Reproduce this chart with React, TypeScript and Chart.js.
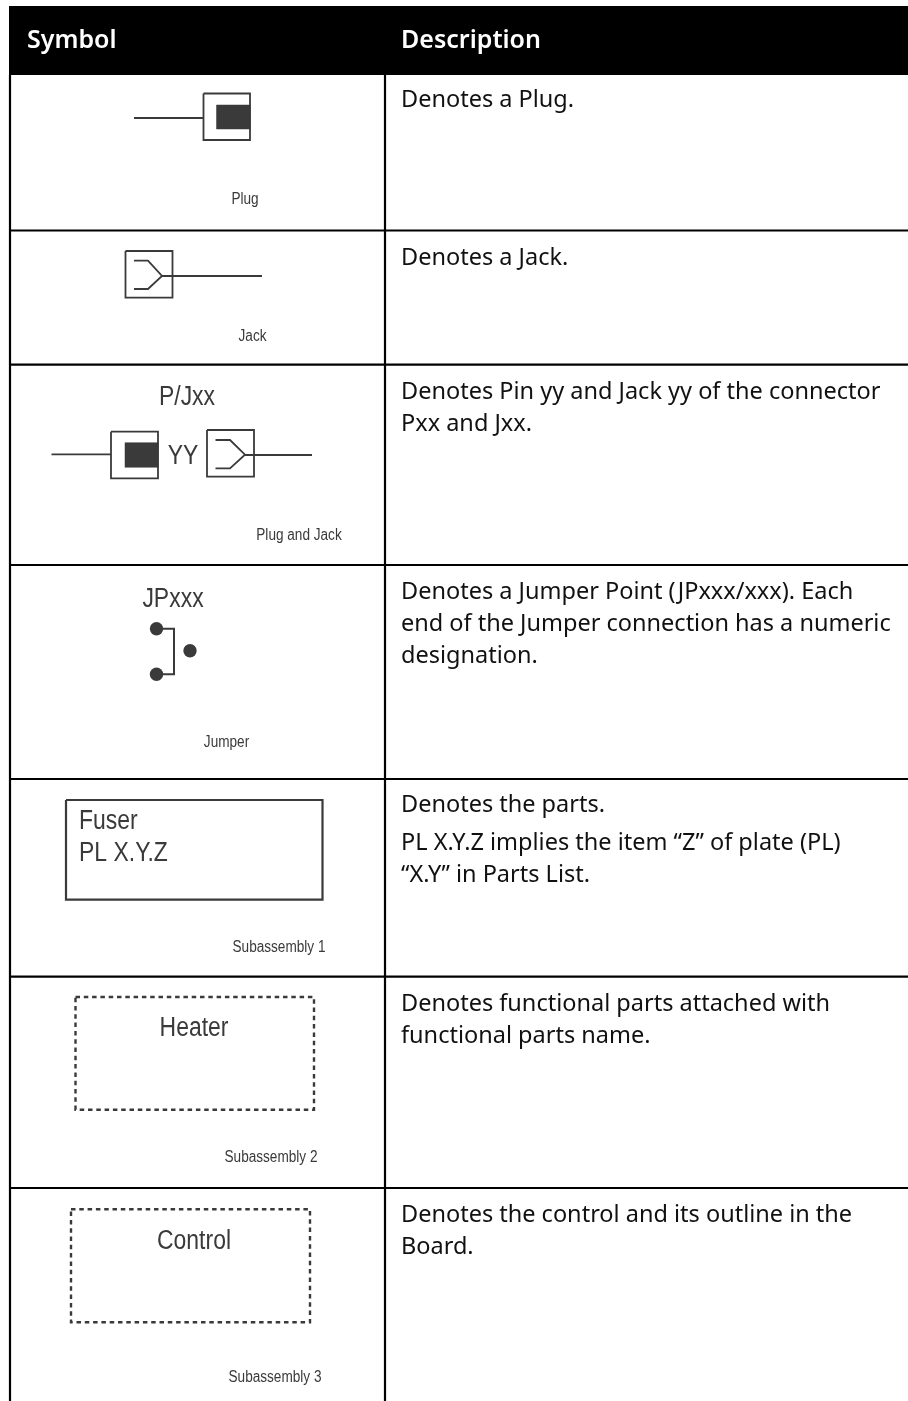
import React, { useEffect, useRef } from "react";
import { Chart, registerables } from "chart.js";

Chart.register(...registerables);

type P = { x: number; y: number };
const pts = (...v: number[]): P[] => {
  const out: P[] = [];
  for (let i = 0; i < v.length; i += 2) out.push({ x: v[i], y: v[i + 1] });
  return out;
};

// table frame
const headerBand = pts(9, 6, 908, 6, 908, 75, 9, 75, 9, 6);
const leftRule = pts(10, 75, 10, 1401);
const midRule = pts(385, 75, 385, 1401);
const rowRules = [230.5, 364.7, 565, 779, 976.7, 1188];

// symbols
const plugWire = pts(134, 118, 203.5, 118);
const plugBox = pts(203.5, 93.5, 250, 93.5, 250, 140, 203.5, 140, 203.5, 93.5);
const plugCore = pts(216.5, 105, 250, 105, 250, 129, 216.5, 129, 216.5, 105);

const jackBox = pts(125.5, 251, 172.5, 251, 172.5, 297.7, 125.5, 297.7, 125.5, 251);
const jackWire = pts(162, 276, 262, 276);
const jackFork = pts(134, 260.7, 148, 260.7, 162, 276, 148, 289, 134, 289);

const pairWireL = pts(51.5, 454.3, 111, 454.3);
const pairPlugBox = pts(111, 431.7, 158, 431.7, 158, 478.3, 111, 478.3, 111, 431.7);
const pairPlugCore = pts(125, 442.7, 158, 442.7, 158, 467.3, 125, 467.3, 125, 442.7);
const pairJackBox = pts(207, 430, 254, 430, 254, 476.7, 207, 476.7, 207, 430);
const pairFork = pts(215.5, 440, 230, 440, 245, 454.7, 230, 468.3, 215.5, 468.3);
const pairWireR = pts(245, 455, 312, 455);

const jumperLink = pts(156.5, 628.7, 174, 628.7, 174, 674.3, 156.5, 674.3);
const jumperDots = pts(156.5, 628.7, 156.5, 674.3, 190, 650.7);

const fuserBox = pts(66, 800, 322.5, 800, 322.5, 899.7, 66, 899.7, 66, 800);
const heaterBox = pts(75.5, 997, 314, 997, 314, 1109.7, 75.5, 1109.7, 75.5, 997);
const controlBox = pts(71, 1209.3, 310, 1209.3, 310, 1322.3, 71, 1322.3, 71, 1209.3);

// text
const headerTexts: [string, number, number][] = [
  ["Symbol", 27, 48],
  ["Description", 401, 48],
];
const descriptionTexts: [string, number][] = [
  ["Denotes a Plug.", 106.7],
  ["Denotes a Jack.", 265],
  ["Denotes Pin yy and Jack yy of the connector", 398.7],
  ["Pxx and Jxx.", 430.7],
  ["Denotes a Jumper Point (JPxxx/xxx). Each", 598.7],
  ["end of the Jumper connection has a numeric", 630.7],
  ["designation.", 662.7],
  ["Denotes the parts.", 811.7],
  ["PL X.Y.Z implies the item \u201CZ\u201D of plate (PL)", 850],
  ["\u201CX.Y\u201D in Parts List.", 882],
  ["Denotes functional parts attached with", 1010.7],
  ["functional parts name.", 1042.7],
  ["Denotes the control and its outline in the", 1221.7],
  ["Board.", 1254],
];
const captionTexts: [string, number, number][] = [
  ["Plug", 245, 204],
  ["Jack", 252.5, 341],
  ["Plug and Jack", 299, 540],
  ["Jumper", 226.5, 747],
  ["Subassembly 1", 279, 952],
  ["Subassembly 2", 271, 1162],
  ["Subassembly 3", 275, 1382],
];
const symbolCentred: [string, number, number][] = [
  ["P/Jxx", 187, 405],
  ["YY", 183, 464],
  ["JPxxx", 173, 606.7],
  ["Heater", 194, 1035.7],
  ["Control", 194, 1249],
];
const symbolLeft: [string, number, number][] = [
  ["Fuser", 79, 829],
  ["PL X.Y.Z", 79, 861],
];

const INK = "#3a3a3a";
const BODY_FONT = '"Noto Sans", sans-serif';
const NARROW_FONT = '"Liberation Sans", sans-serif';
const NARROW = 0.85;

const line = (data: P[], extra: any = {}) => ({
  type: "line" as const,
  data,
  showLine: true,
  pointRadius: 0,
  borderColor: INK,
  borderWidth: 1.8,
  tension: 0,
  fill: false,
  clip: false,
  ...extra,
});

const textPlugin = {
  id: "tableText",
  afterDatasetsDraw(chart: any) {
    const { ctx, scales } = chart;
    const X = (v: number) => scales.x.getPixelForValue(v);
    const Y = (v: number) => scales.y.getPixelForValue(v);
    const narrowText = (t: string, x: number, y: number) => {
      ctx.save();
      ctx.translate(X(x), Y(y));
      ctx.scale(NARROW, 1);
      ctx.fillText(t, 0, 0);
      ctx.restore();
    };
    ctx.save();
    ctx.textBaseline = "alphabetic";
    ctx.textAlign = "left";
    ctx.fillStyle = "#ffffff";
    ctx.font = `600 25px ${BODY_FONT}`;
    headerTexts.forEach(([t, x, y]) => ctx.fillText(t, X(x), Y(y)));
    ctx.fillStyle = "#111111";
    ctx.font = `400 23.5px ${BODY_FONT}`;
    descriptionTexts.forEach(([t, y]) => ctx.fillText(t, X(401), Y(y)));
    ctx.fillStyle = INK;
    ctx.font = `400 16px ${NARROW_FONT}`;
    ctx.textAlign = "center";
    captionTexts.forEach(([t, x, y]) => narrowText(t, x, y));
    ctx.font = `400 27px ${NARROW_FONT}`;
    symbolCentred.forEach(([t, x, y]) => narrowText(t, x, y));
    ctx.textAlign = "left";
    symbolLeft.forEach(([t, x, y]) => narrowText(t, x, y));
    ctx.restore();
  },
};

export default function App() {
  const ref = useRef<HTMLCanvasElement>(null);
  useEffect(() => {
    const RULE = { borderColor: "#000000", borderWidth: 2.2 };
    const chart = new Chart(ref.current!, {
      type: "scatter",
      data: {
        datasets: [
          line(headerBand, { backgroundColor: "#000000", borderColor: "#000000", borderWidth: 0, fill: "shape" }),
          line(leftRule, RULE),
          line(midRule, RULE),
          ...rowRules.map((y) => line(pts(9, y, 908, y), RULE)),
          line(plugWire),
          line(plugBox),
          line(plugCore, { backgroundColor: INK, fill: "shape", borderWidth: 0.5 }),
          line(jackBox),
          line(jackWire),
          line(jackFork),
          line(pairWireL),
          line(pairPlugBox),
          line(pairPlugCore, { backgroundColor: INK, fill: "shape", borderWidth: 0.5 }),
          line(pairJackBox),
          line(pairFork),
          line(pairWireR),
          line(jumperLink, { borderWidth: 2 }),
          {
            type: "scatter" as const,
            data: jumperDots,
            showLine: false,
            pointRadius: 6.7,
            pointBorderWidth: 0,
            pointBackgroundColor: INK,
            clip: false,
          },
          line(fuserBox, { borderWidth: 2.2 }),
          line(heaterBox, { borderWidth: 2.4, borderDash: [4.5, 3.8] }),
          line(controlBox, { borderWidth: 2.4, borderDash: [4.5, 3.8] }),
        ] as any,
      },
      options: {
        responsive: false,
        animation: false,
        layout: { padding: 0, autoPadding: false },
        plugins: { legend: { display: false }, tooltip: { enabled: false }, title: { display: false } },
        scales: {
          x: { type: "linear", display: false, min: 0, max: 908 },
          y: { type: "linear", display: false, min: 0, max: 1401, reverse: true },
        },
      },
      plugins: [textPlugin],
    });
    return () => chart.destroy();
  }, []);
  return (
    <canvas
      ref={ref}
      width={908}
      height={1401}
      style={{ position: "absolute", left: 0, top: 0, display: "block", background: "#ffffff" }}
    />
  );
}
